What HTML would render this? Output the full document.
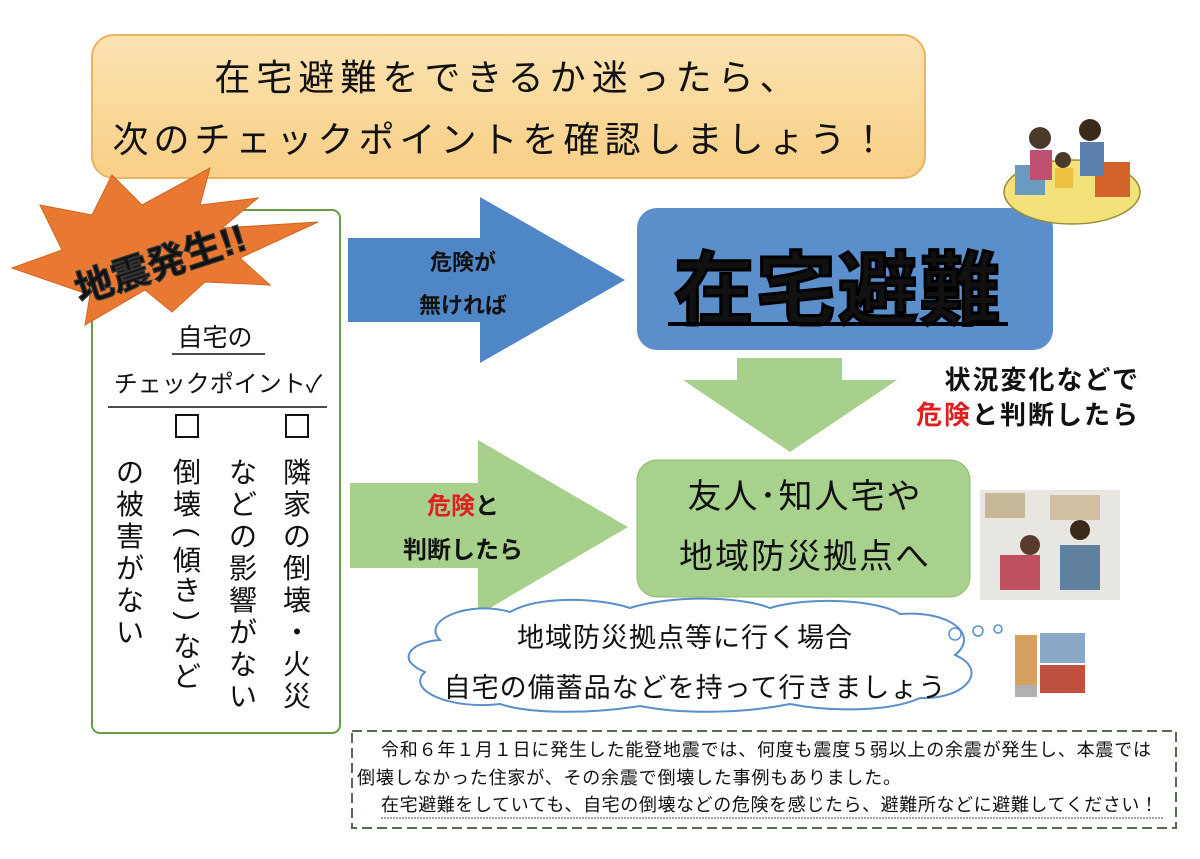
<!DOCTYPE html>
<html><head><meta charset="utf-8"><style>
html,body{margin:0;padding:0;background:#fff}
svg{display:block}
text{font-family:"Liberation Sans","Noto Sans CJK JP",sans-serif;fill:#111}
</style></head><body>
<svg width="1200" height="859" viewBox="0 0 1200 859" xmlns="http://www.w3.org/2000/svg">
<defs>
<linearGradient id="tg" x1="0" y1="0" x2="0" y2="1"><stop offset="0" stop-color="#fbe3b2"/><stop offset="1" stop-color="#f8cf85"/></linearGradient>
</defs>
<rect x="0" y="0" width="1200" height="859" fill="#fff"/>
<!-- top banner -->
<rect x="92" y="35" width="833" height="143" rx="22" fill="url(#tg)" stroke="#eab562" stroke-width="2"/>
<text x="508" y="90" font-size="36" text-anchor="middle" letter-spacing="6">在宅避難をできるか迷ったら、</text>
<text x="502" y="152" font-size="36" text-anchor="middle" letter-spacing="5">次のチェックポイントを確認しましょう！</text>

<!-- left box -->
<rect x="92" y="210" width="248" height="523" rx="8" fill="#fff" stroke="#6a9a45" stroke-width="2"/>
<polygon points="40,205 92,215 112,175 142,205 210,168 200,205 258,198 222,228 318,222 240,258 270,285 205,282 172,312 145,290 85,325 90,295 12,268 62,250" fill="#e97932" stroke="#d0651f" stroke-width="1"/>
<text x="160" y="277" font-size="38" text-anchor="middle" transform="rotate(-18 160 262)" fill="#fff" stroke="#333" stroke-width="1.3" font-weight="bold">地震発生!!</text>
<text x="215" y="346" font-size="25" text-anchor="middle">自宅の</text>
<line x1="172" y1="354" x2="265" y2="354" stroke="#111" stroke-width="1.5"/>
<text x="218" y="392" font-size="24" text-anchor="middle">チェックポイント✓</text>
<line x1="108" y1="407" x2="327" y2="407" stroke="#111" stroke-width="1.5"/>
<rect x="176" y="415" width="22" height="22" fill="none" stroke="#111" stroke-width="2"/>
<rect x="286" y="415" width="22" height="22" fill="none" stroke="#111" stroke-width="2"/>
<g font-size="28" text-anchor="middle">
<g transform="translate(297,0)">
<text x="0" y="482">隣</text><text x="0" y="514">家</text><text x="0" y="546">の</text><text x="0" y="578">倒</text><text x="0" y="610">壊</text><text x="0" y="642">・</text><text x="0" y="674">火</text><text x="0" y="706">災</text>
</g>
<g transform="translate(243,0)">
<text x="0" y="482">な</text><text x="0" y="514">ど</text><text x="0" y="546">の</text><text x="0" y="578">影</text><text x="0" y="610">響</text><text x="0" y="642">が</text><text x="0" y="674">な</text><text x="0" y="706">い</text>
</g>
<g transform="translate(187,0)">
<text x="0" y="482">倒</text><text x="0" y="514">壊</text><text x="0" y="540" transform="rotate(90 0 532)">(</text><text x="0" y="570">傾</text><text x="0" y="600">き</text><text x="0" y="624" transform="rotate(90 0 616)">)</text><text x="0" y="656">な</text><text x="0" y="686">ど</text>
</g>
<g transform="translate(130,0)">
<text x="0" y="482">の</text><text x="0" y="514">被</text><text x="0" y="546">害</text><text x="0" y="578">が</text><text x="0" y="610">な</text><text x="0" y="642">い</text>
</g>
</g>

<!-- blue arrow -->
<polygon points="348,238 480,238 480,197 625,280 480,363 480,322 348,322" fill="#4f86c6"/>
<text x="463" y="270" font-size="22" text-anchor="middle" font-weight="bold">危険が</text>
<text x="463" y="313" font-size="22" text-anchor="middle" font-weight="bold">無ければ</text>

<!-- blue box -->
<rect x="637" y="208" width="416" height="142" rx="20" fill="#5a8fcc"/>
<text x="838" y="318" font-size="80" font-weight="bold" text-anchor="middle" letter-spacing="2" stroke="#000" stroke-width="3">在宅避難</text>
<rect x="668" y="322" width="340" height="4" fill="#000"/>

<!-- green down arrow -->
<polygon points="737,358 842,358 842,380 897,380 790,452 683,380 737,380" fill="#a8d08d"/>
<text x="1140" y="389" font-size="26" text-anchor="end" font-weight="bold" letter-spacing="2">状況変化などで</text>
<text x="1140" y="424" font-size="26" text-anchor="end" font-weight="bold" letter-spacing="2"><tspan fill="#e02020">危険</tspan>と判断したら</text>

<!-- green right arrow -->
<polygon points="350,483 478,483 478,440 628,527 478,615 478,568 350,568" fill="#a8d08d"/>
<text x="463" y="514" font-size="24" text-anchor="middle" font-weight="bold"><tspan fill="#e02020">危険</tspan>と</text>
<text x="463" y="558" font-size="24" text-anchor="middle" font-weight="bold">判断したら</text>

<!-- green box -->
<rect x="637" y="460" width="333" height="137" rx="20" fill="#a9d18e" stroke="#8fbc70" stroke-width="1"/>
<text x="805" y="508" font-size="34" text-anchor="middle" letter-spacing="2">友人･知人宅や</text>
<text x="805" y="568" font-size="34" text-anchor="middle" letter-spacing="2">地域防災拠点へ</text>

<!-- cloud -->
<path d="M440,640 C420,620 470,600 510,612 C540,595 600,598 630,608 C670,595 740,596 770,608 C810,596 880,600 900,614 C950,610 980,635 955,655 C990,670 965,700 920,698 C890,712 830,712 790,704 C740,714 680,714 640,706 C590,714 530,714 500,704 C450,710 405,690 425,672 C395,660 410,642 440,640 Z" fill="#fff" stroke="#5a8fcc" stroke-width="2"/>
<circle cx="955" cy="634" r="6" fill="#fff" stroke="#5a8fcc" stroke-width="1.5"/>
<circle cx="978" cy="631" r="5" fill="#fff" stroke="#5a8fcc" stroke-width="1.5"/>
<circle cx="998" cy="629" r="4" fill="#fff" stroke="#5a8fcc" stroke-width="1.5"/>
<text x="685" y="647" font-size="27" text-anchor="middle" letter-spacing="1">地域防災拠点等に行く場合</text>
<text x="695" y="697" font-size="27" text-anchor="middle" letter-spacing="1">自宅の備蓄品などを持って行きましょう</text>

<!-- dashed note -->
<rect x="352" y="731" width="824" height="97" fill="#fff" stroke="#5a6a50" stroke-width="2" stroke-dasharray="10,5"/>
<text x="381" y="756" font-size="18" letter-spacing="0.8">令和６年１月１日に発生した能登地震では、何度も震度５弱以上の余震が発生し、本震では</text>
<text x="357" y="784" font-size="18" letter-spacing="0.8">倒壊しなかった住家が、その余震で倒壊した事例もありました。</text>
<text x="381" y="811" font-size="18" letter-spacing="0.6">在宅避難をしていても、自宅の倒壊などの危険を感じたら、避難所などに避難してください！</text>
<line x1="381" y1="818" x2="1163" y2="818" stroke="#888" stroke-width="1.5" stroke-dasharray="2,1"/>

<!-- illustrations (approximate) -->
<ellipse cx="1072" cy="192" rx="68" ry="32" fill="#f3e27a" stroke="#9a8a3a" stroke-width="1.5"/>
<rect x="1015" y="165" width="30" height="30" fill="#6a9ac0"/><rect x="1095" y="162" width="35" height="35" fill="#d2642a"/>
<circle cx="1040" cy="138" r="11" fill="#4a3a2a"/><circle cx="1090" cy="130" r="11" fill="#3a2a1a"/>
<rect x="1030" y="150" width="22" height="30" fill="#c05070"/><rect x="1080" y="142" width="24" height="34" fill="#5a80b0"/>
<circle cx="1063" cy="160" r="8" fill="#4a3a2a"/><rect x="1055" y="168" width="18" height="20" fill="#f0c040"/>
<rect x="980" y="490" width="140" height="110" fill="#e8e6e0"/>
<rect x="985" y="493" width="40" height="25" fill="#c8b89a"/><rect x="1050" y="495" width="50" height="25" fill="#d0c0a0"/>
<circle cx="1030" cy="545" r="10" fill="#5a3a2a"/><circle cx="1080" cy="530" r="10" fill="#3a2a1a"/>
<rect x="1000" y="555" width="40" height="35" fill="#c05060"/><rect x="1060" y="545" width="40" height="45" fill="#6080a0"/>
<rect x="1015" y="635" width="22" height="50" fill="#d8a060"/><rect x="1040" y="633" width="45" height="30" fill="#8aa8c8"/>
<rect x="1040" y="665" width="45" height="28" fill="#c05040"/><rect x="1015" y="685" width="22" height="12" fill="#b0b0b0"/>
</svg>
</body></html>
